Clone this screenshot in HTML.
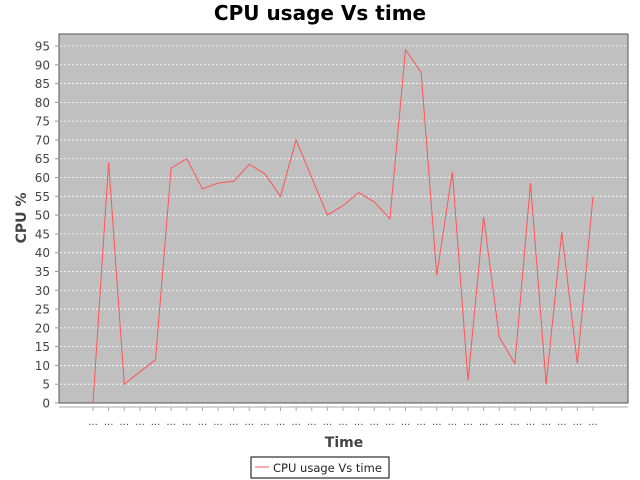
<!DOCTYPE html>
<html><head><meta charset="utf-8"><style>
html,body{margin:0;padding:0;background:#fff;width:640px;height:480px;overflow:hidden}
svg text{font-family:"DejaVu Sans","Liberation Sans",sans-serif}
</style></head><body>
<svg id="c" width="640" height="480" xmlns="http://www.w3.org/2000/svg">
<text x="320" y="20" text-anchor="middle" font-size="20" font-weight="bold" fill="#000">CPU usage Vs time</text>
<rect x="59" y="34" width="569" height="369" fill="#c0c0c0" stroke="#555" stroke-width="1"/>
<g id="grid"></g><g id="yt"></g><g id="xt"></g>
<line x1="59" y1="407" x2="628" y2="407" stroke="#aaa"/>
<polyline id="ln" fill="none" stroke="#ff5555" stroke-width="1"/>
<text x="344" y="447" text-anchor="middle" font-size="14" font-weight="bold" fill="#444">Time</text>
<text transform="translate(26,218) rotate(-90)" text-anchor="middle" font-size="14" font-weight="bold" fill="#444">CPU %</text>
<g>
<rect x="251" y="457" width="138" height="21" fill="#fff" stroke="#000"/>
<line x1="255" y1="467" x2="269" y2="467" stroke="#ff5555"/>
<text x="273" y="472" font-size="11.5" fill="#222">CPU usage Vs time</text>
</g>
</svg>
<script>
const categories = Array.from({length:33},(_, i)=>"...");
const cpuValues = [0,64,5,8.3,11.5,62.5,65,57,58.5,59,63.5,61,55,70,60,50,52.5,56,53.5,49,94,88,34,61.5,6,49.5,17.5,10.5,58.5,5,45.5,10.5,55];
const yTicks = [0,5,10,15,20,25,30,35,40,45,50,55,60,65,70,75,80,85,90,95];
const NS="http://www.w3.org/2000/svg";
const y = v => 403 - v*3.758;
const x = i => 93 + i*(500/(categories.length-1));
const grid=document.getElementById('grid'), yt=document.getElementById('yt'), xt=document.getElementById('xt');
function mk(t,a){const e=document.createElementNS(NS,t);for(const k in a)e.setAttribute(k,a[k]);return e;}
yTicks.forEach(v=>{
  if(v>0){const g=mk('line',{x1:60,x2:627,y1:y(v),y2:y(v),stroke:'#fff','stroke-dasharray':'2,2','stroke-width':0.8});
  
  
  grid.appendChild(g);}
  const tk=mk('line',{x1:55,x2:59,y1:y(v),y2:y(v),stroke:'#999'});
  
  
  yt.appendChild(tk);
  const t=mk('text',{x:50,y:y(v)+4.5,'text-anchor':'end','font-size':12,fill:'#444'});
  t.textContent=v;
  
  
  yt.appendChild(t);
});
categories.forEach((c,i)=>{
  const tk=mk('line',{x1:x(i),x2:x(i),y1:407,y2:411,stroke:'#aaa'});
  
  
  xt.appendChild(tk);
  const t=mk('text',{x:x(i),y:425,'text-anchor':'middle','font-size':10,fill:'#444'});
  t.textContent=c;
  
  
  xt.appendChild(t);
});
document.getElementById('ln').setAttribute('points',cpuValues.map((v,i)=>x(i)+','+y(v)).join(' '));
</script>
</body></html>
